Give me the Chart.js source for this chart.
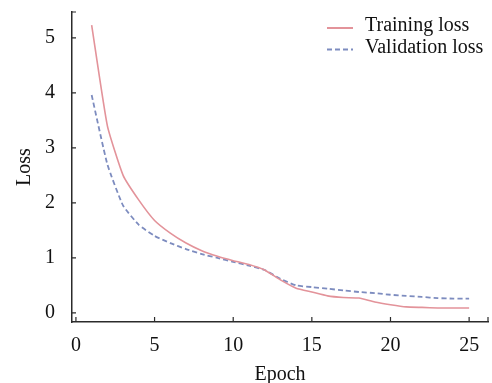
<!DOCTYPE html>
<html>
<head>
<meta charset="utf-8">
<script src="https://cdn.jsdelivr.net/npm/chart.js@4.4.1/dist/chart.umd.min.js"></script>
<style>
  html, body { margin: 0; padding: 0; background: #fff; }
  #wrap { width: 492px; height: 383px; }
</style>
</head>
<body>
<div id="wrap"><canvas id="loss-chart"></canvas></div>
<script>
const epochs = [1, 2, 3, 4, 5, 6, 7, 8, 9, 10, 11, 12, 13, 14, 15, 16, 17, 18, 19, 20, 21, 22, 23, 24, 25];
const trainingLoss = [5.23, 3.4, 2.5, 2.05, 1.68, 1.45, 1.27, 1.13, 1.03, 0.95, 0.88, 0.78, 0.6, 0.45, 0.38, 0.31, 0.28, 0.27, 0.2, 0.15, 0.11, 0.1, 0.09, 0.09, 0.09];
const validationLoss = [3.96, 2.7, 1.95, 1.6, 1.4, 1.27, 1.16, 1.07, 1.0, 0.93, 0.86, 0.78, 0.62, 0.5, 0.47, 0.44, 0.41, 0.38, 0.36, 0.33, 0.31, 0.29, 0.27, 0.26, 0.26];
const xTicks = [0, 5, 10, 15, 20, 25];
const yTicks = [0, 1, 2, 3, 4, 5];

const FONT = { family: '"Liberation Serif", "Times New Roman", serif', size: 20 };
const AXIS = '#2b2b2b';

// inward tick marks + legend drawn inside the plot
const decor = {
  id: 'decor',
  afterDraw(chart) {
    const { ctx, chartArea: a, scales: { x, y } } = chart;
    ctx.save();
    ctx.strokeStyle = AXIS;
    ctx.lineWidth = 1.2;
    ctx.beginPath();
    x.ticks.forEach(t => {
      const px = x.getPixelForValue(t.value);
      ctx.moveTo(px, a.bottom); ctx.lineTo(px, a.bottom - 5);
    });
    ctx.moveTo(a.right, a.bottom); ctx.lineTo(a.right, a.bottom - 5);
    y.ticks.forEach(t => {
      const py = y.getPixelForValue(t.value);
      ctx.moveTo(a.left, py); ctx.lineTo(a.left + 4, py);
    });
    ctx.moveTo(a.left, a.top); ctx.lineTo(a.left + 4, a.top);
    ctx.stroke();

    ctx.font = FONT.size + 'px ' + FONT.family;
    ctx.textBaseline = 'middle';
    ctx.fillStyle = '#111';
    chart.data.datasets.forEach((ds, i) => {
      const ly = 26 + i * 21.5;
      ctx.beginPath();
      ctx.strokeStyle = ds.borderColor;
      ctx.lineWidth = 2;
      ctx.setLineDash(ds.borderDash || []);
      ctx.moveTo(327, ly + 2); ctx.lineTo(353, ly + 2);
      ctx.stroke();
      ctx.setLineDash([]);
      ctx.fillText(ds.label, 365, ly);
    });
    ctx.restore();
  }
};

new Chart(document.getElementById('loss-chart'), {
  type: 'line',
  data: {
    datasets: [
      {
        label: 'Training loss',
        data: epochs.map((e, i) => ({ x: e, y: trainingLoss[i] })),
        borderColor: '#e3939a',
        borderWidth: 1.6,
        pointRadius: 0,
        tension: 0.15
      },
      {
        label: 'Validation loss',
        data: epochs.map((e, i) => ({ x: e, y: validationLoss[i] })),
        borderColor: '#7d8cbf',
        borderWidth: 1.8,
        borderDash: [5, 3],
        pointRadius: 0,
        tension: 0.15
      }
    ]
  },
  options: {
    responsive: true,
    maintainAspectRatio: false,
    animation: false,
    layout: { padding: { top: 12, right: 4, left: 0, bottom: 0 } },
    plugins: { legend: { display: false }, tooltip: { enabled: false } },
    scales: {
      x: {
        type: 'linear',
        min: -0.25,
        max: 26.2,
        afterBuildTicks: s => { s.ticks = xTicks.map(v => ({ value: v })); },
        afterFit: s => { s.height = 61; s.paddingLeft = 0; s.paddingRight = 0; },
        grid: { display: false, drawTicks: false },
        border: { display: true, color: AXIS, width: 1.5 },
        ticks: { color: '#111', font: FONT, padding: 12, maxRotation: 0 },
        title: { display: true, text: 'Epoch', color: '#111', font: { ...FONT, lineHeight: 1 }, padding: { top: 0, bottom: -2 } }
      },
      y: {
        min: -0.165,
        max: 5.47,
        afterBuildTicks: s => { s.ticks = yTicks.map(v => ({ value: v })); },
        afterFit: s => { s.width = 72; s.paddingTop = 0; s.paddingBottom = 0; },
        grid: { display: false, drawTicks: false },
        border: { display: true, color: AXIS, width: 1.5 },
        ticks: { color: '#111', font: FONT, padding: 17 },
        title: { display: true, text: 'Loss', color: '#111', font: { ...FONT, lineHeight: 1 }, padding: { top: 14.5, bottom: 0 } }
      }
    }
  },
  plugins: [decor]
});
</script>
</body>
</html>
